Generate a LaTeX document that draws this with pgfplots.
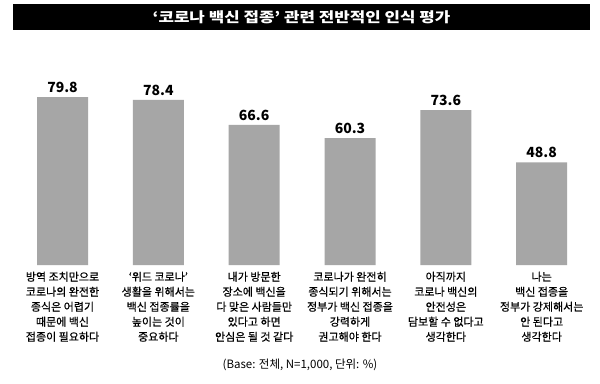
\documentclass[border=0pt]{standalone}
\usepackage{fontspec}
\setmainfont{Noto Sans CJK KR}
\newfontfamily\labelfont[FakeBold=0.5]{Noto Sans CJK KR}
\usepackage{pgfplots}
\pgfplotsset{compat=1.18}
\definecolor{bargray}{HTML}{A6A6A6}
\begin{document}
\begin{tikzpicture}
\fill[white] (0,0) rectangle (600bp,384bp);
\useasboundingbox (0,0) rectangle (600bp,384bp);
\fill[black] (13bp,354bp) rectangle (590bp,380bp);
\node[white, font=\fontsize{14bp}{14bp}\selectfont\bfseries] at (301.5bp,367bp) {\scalebox{1.2}[1]{‘코로나 백신 접종’ 관련 전반적인 인식 평가}};
\begin{axis}[
  at={(14.6bp,119bp)}, anchor=south west,
  scale only axis, width=575bp, height=210.5bp,
  xmin=-0.5, xmax=5.5, ymin=0, ymax=100,
  axis x line=bottom, x axis line style={draw=none},
  hide y axis,
  xtick={0,1,2,3,4,5},
  xtick style={draw=none},
  xticklabels={
    {방역 조치만으로\\코로나의 완전한\\종식은 어렵기\\때문에 백신\\접종이 필요하다},
    {‘위드 코로나’\\생활을 위해서는\\백신 접종률을\\높이는 것이\\중요하다},
    {내가 방문한\\장소에 백신을\\다 맞은 사람들만\\있다고 하면\\안심은 될 것 같다},
    {코로나가 완전히\\종식되기 위해서는\\정부가 백신 접종을\\강력하게\\권고해야 한다},
    {아직까지\\코로나 백신의\\안전성은\\담보할 수 없다고\\생각한다},
    {나는\\백신 접종을\\정부가 강제해서는\\안 된다고\\생각한다}},
  xticklabel style={align=center, font=\labelfont\fontsize{11bp}{15bp}\selectfont, yshift=1bp},
  ybar, bar width=51bp,
  nodes near coords={\pgfmathprintnumber[fixed,fixed zerofill,precision=1,assume math mode=true]{\pgfplotspointmeta}},
  nodes near coords style={font=\fontsize{14bp}{14bp}\selectfont\bfseries, anchor=south, yshift=1bp},
  clip=false,
]
\addplot[fill=bargray, draw=none] coordinates {(0,79.8) (1,78.4) (2,66.6) (3,60.3) (4,73.6) (5,48.8)};
\end{axis}
\node[font=\fontsize{11.5bp}{12bp}\selectfont] at (300bp,19bp) {(Base: 전체, N=1,000, 단위: \%)};
\end{tikzpicture}
\end{document}
